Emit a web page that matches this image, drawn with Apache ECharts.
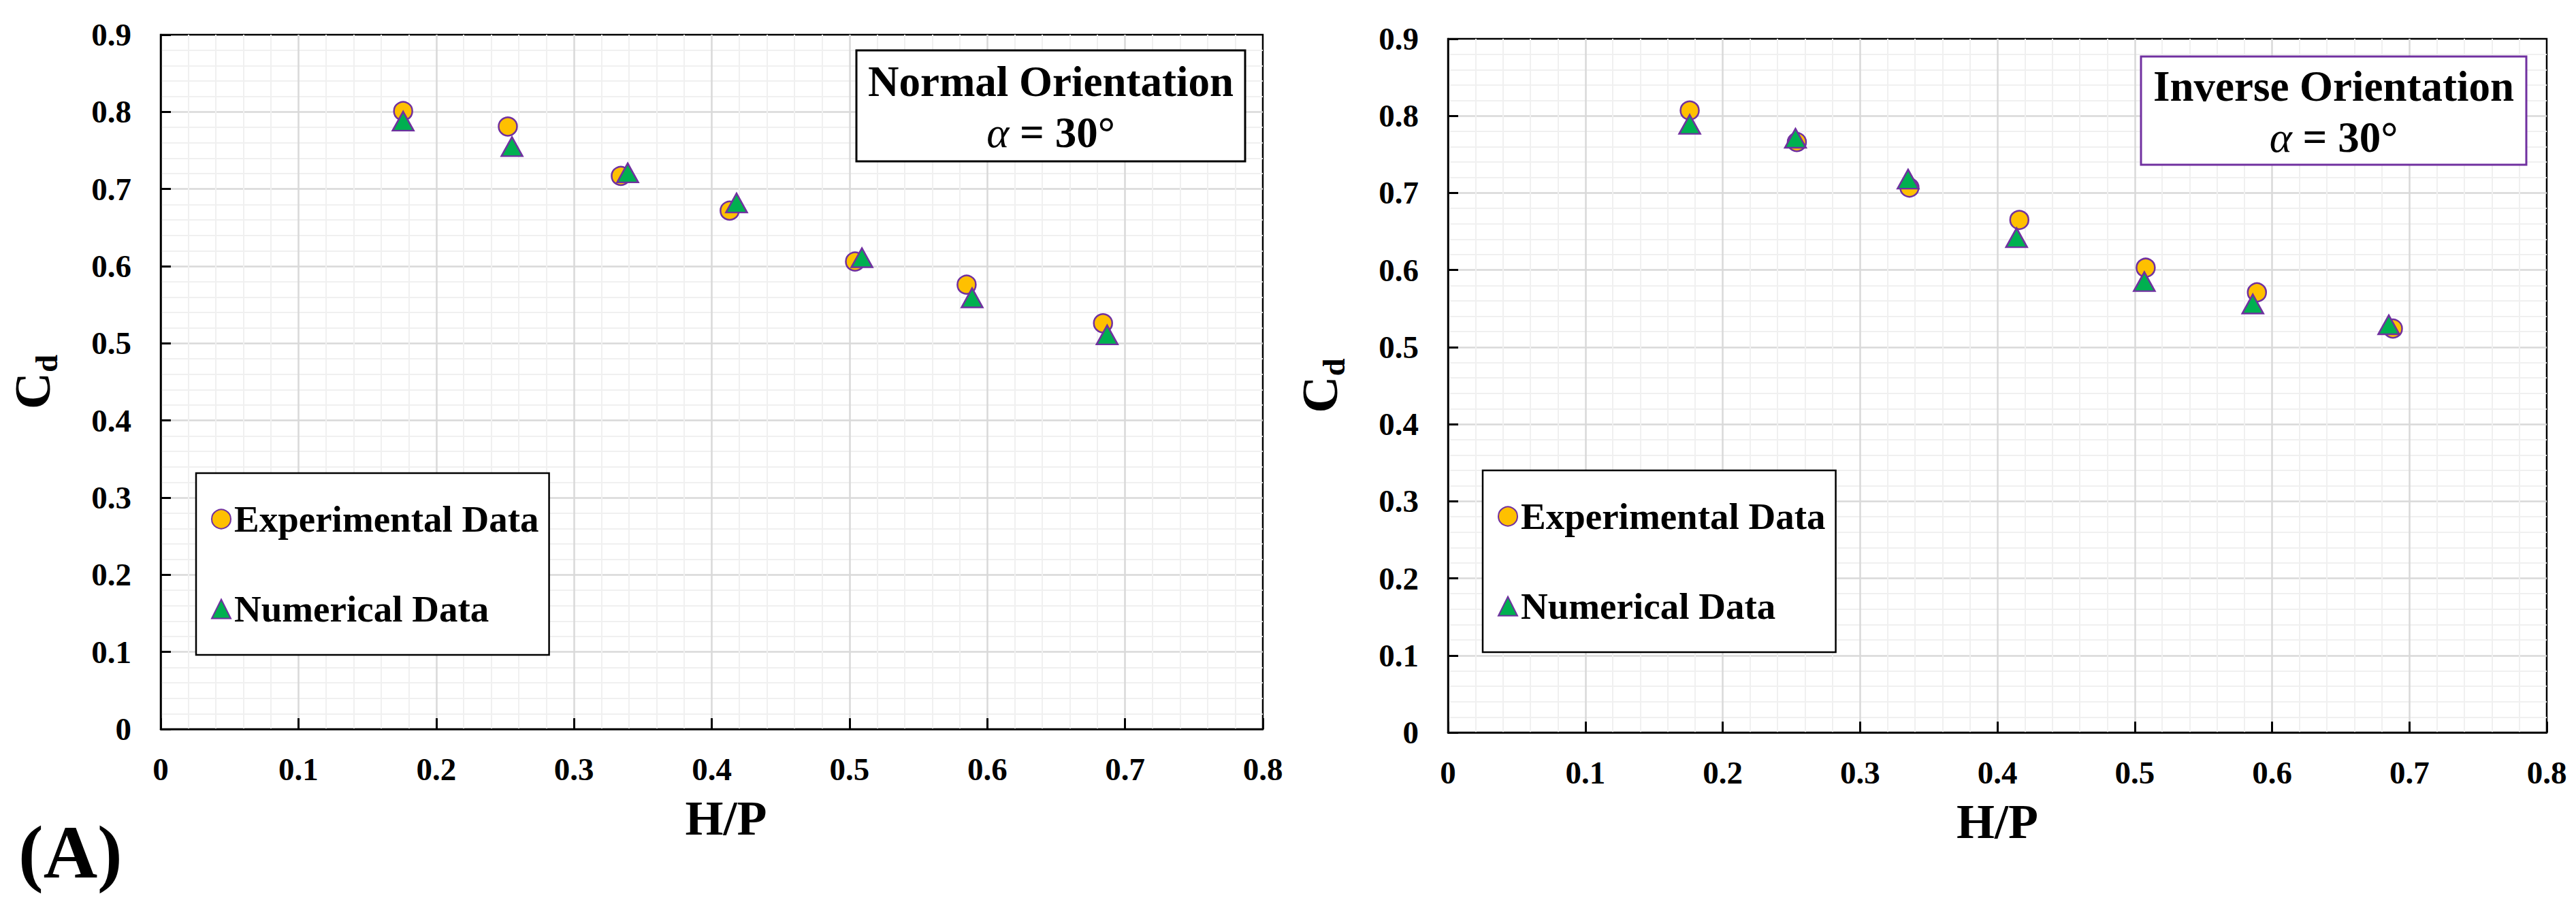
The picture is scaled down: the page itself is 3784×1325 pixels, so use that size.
<!DOCTYPE html>
<html>
<head>
<meta charset="utf-8">
<script src="https://cdn.jsdelivr.net/npm/echarts@6/dist/echarts.min.js"></script>
<style>
html,body{margin:0;padding:0;background:#fff;}
#chart{width:3784px;height:1325px;}
</style>
</head>
<body>
<div id="chart"></div>
<script>
// ---- data ----
const panelTitles = ['Normal Orientation', 'Inverse Orientation'];
const angleLabel = '\u03b1';
const angleValue = ' = 30\u00b0';
const seriesNames = ['Experimental Data', 'Numerical Data'];
const xAxisName = 'H/P';
const yAxisName = 'C';
const yAxisSub = 'd';
const panelTag = '(A)';

// Normal orientation
const hpNormalExp = [0.176, 0.252, 0.334, 0.413, 0.504, 0.585, 0.684];
const cdNormalExp = [0.801, 0.781, 0.717, 0.672, 0.606, 0.576, 0.526];
const hpNormalNum = [0.176, 0.255, 0.339, 0.418, 0.509, 0.589, 0.687];
const cdNormalNum = [0.788, 0.755, 0.721, 0.682, 0.611, 0.559, 0.511];

// Inverse orientation
const hpInverseExp = [0.176, 0.254, 0.336, 0.416, 0.508, 0.589, 0.688];
const cdInverseExp = [0.807, 0.766, 0.707, 0.665, 0.603, 0.571, 0.524];
const hpInverseNum = [0.176, 0.253, 0.335, 0.414, 0.507, 0.586, 0.685];
const cdInverseNum = [0.789, 0.771, 0.718, 0.642, 0.585, 0.556, 0.529];

const xRange = [0, 0.8], xStep = 0.1;
const yRange = [0, 0.9], yStep = 0.1;

// ---- styling / layout ----
const FONT = 'Liberation Serif';
const grids = [
  {left: 236, top: 51, width: 1619, height: 1020},
  {left: 2127, top: 57, width: 1614, height: 1019}
];

function zip(xs, ys) { return xs.map((x, k) => [x, ys[k]]); }

function xAxis(i) {
  return {
    type: 'value', gridIndex: i, min: xRange[0], max: xRange[1], interval: xStep,
    name: xAxisName, nameLocation: 'middle', nameGap: 95,
    nameTextStyle: {fontFamily: FONT, fontWeight: 'bold', fontSize: 72, color: '#000',
      padding: i === 0 ? [0, 0, 0, 42] : [0, 0, 0, 0]},
    axisLine: {show: true, onZero: false, lineStyle: {color: '#000', width: 2.5}},
    axisTick: {show: true, inside: true, length: 16, lineStyle: {color: '#000', width: 3}},
    axisLabel: {fontFamily: FONT, fontWeight: 'bold', fontSize: 47, color: '#000', margin: 35},
    splitLine: {show: true, showMinLine: false, showMaxLine: false, lineStyle: {color: '#d9d9d9', width: 2.5}},
    minorTick: {show: false, splitNumber: 5},
    minorSplitLine: {show: true, lineStyle: {color: '#f0f0f0', width: 2}}
  };
}
function yAxis(i) {
  return {
    type: 'value', gridIndex: i, min: yRange[0], max: yRange[1], interval: yStep,
    name: '{c|' + yAxisName + '}{d|' + yAxisSub + '}', nameLocation: 'middle', nameGap: 145, nameRotate: 90,
    nameTextStyle: {
      rich: {
        c: {fontFamily: FONT, fontWeight: 'bold', fontSize: 75, color: '#000', lineHeight: 80, verticalAlign: 'bottom', padding: [0, 0, 6, 0]},
        d: {fontFamily: FONT, fontWeight: 'bold', fontSize: 47, color: '#000', lineHeight: 47, verticalAlign: 'bottom'}
      }
    },
    axisLine: {show: true, onZero: false, lineStyle: {color: '#000', width: 2.5}},
    axisTick: {show: true, inside: true, length: 15, lineStyle: {color: '#000', width: 3}},
    axisLabel: {fontFamily: FONT, fontWeight: 'bold', fontSize: 47, color: '#000', margin: 43},
    splitLine: {show: true, showMinLine: false, showMaxLine: false, lineStyle: {color: '#d9d9d9', width: 2.5}},
    minorTick: {show: false, splitNumber: 5},
    minorSplitLine: {show: true, lineStyle: {color: '#f0f0f0', width: 2}}
  };
}
function expSeries(i, xs, ys) {
  return {
    name: seriesNames[0], type: 'scatter', xAxisIndex: i, yAxisIndex: i,
    symbol: 'circle', symbolSize: 27,
    itemStyle: {color: '#ffc000', borderColor: '#7030a0', borderWidth: 2.5, opacity: 1},
    data: zip(xs, ys), z: 3
  };
}
function numSeries(i, xs, ys) {
  return {
    name: seriesNames[1], type: 'scatter', xAxisIndex: i, yAxisIndex: i,
    symbol: 'triangle', symbolSize: [31, 28],
    itemStyle: {color: '#00b050', borderColor: '#7030a0', borderWidth: 2.5, opacity: 1},
    data: zip(xs, ys), z: 4
  };
}
function legend(left, top) {
  return {
    show: true, orient: 'vertical', left: left, top: top,
    data: seriesNames.slice(),
    padding: [40, 15, 40, 22], itemGap: 77, itemWidth: 28, itemHeight: 28,
    backgroundColor: '#fff', borderColor: '#000', borderWidth: 2.5,
    textStyle: {fontFamily: FONT, fontWeight: 'bold', fontSize: 55, color: '#000'},
    selectedMode: false
  };
}
function titleBox(rect, stroke, title) {
  return [
    {type: 'rect', z: 100, shape: {x: rect.x, y: rect.y, width: rect.w, height: rect.h},
      style: {fill: '#fff', stroke: stroke, lineWidth: 3}},
    {type: 'text', z: 101, x: rect.x + rect.w / 2, y: rect.y + rect.h / 2 + 2,
      style: {
        text: '{b|' + title + '}\n{i|' + angleLabel + '}{b|' + angleValue + '}',
        align: 'center', verticalAlign: 'middle',
        rich: {
          b: {fontFamily: FONT, fontWeight: 'bold', fontSize: 63, lineHeight: 75, fill: '#000'},
          i: {fontFamily: FONT, fontStyle: 'italic', fontSize: 63, lineHeight: 75, fill: '#000'}
        }
      }}
  ];
}

const option = {
  animation: false,
  backgroundColor: '#fff',
  grid: grids.map(g => Object.assign({show: true, backgroundColor: '#fff', borderColor: '#000', borderWidth: 2.5, containLabel: false}, g)),
  xAxis: [xAxis(0), xAxis(1)],
  yAxis: [yAxis(0), yAxis(1)],
  legend: [legend(288, 695), legend(2178, 691)],
  series: [
    expSeries(0, hpNormalExp, cdNormalExp),
    numSeries(0, hpNormalNum, cdNormalNum),
    expSeries(1, hpInverseExp, cdInverseExp),
    numSeries(1, hpInverseNum, cdInverseNum)
  ],
  graphic: [].concat(
    titleBox({x: 1258, y: 74, w: 571, h: 163}, '#000', panelTitles[0]),
    titleBox({x: 3145, y: 83, w: 566, h: 159}, '#7030a0', panelTitles[1]),
    [{type: 'text', z: 101, x: 27, y: 1252,
      style: {text: panelTag, fontFamily: FONT, fontWeight: 'bold', fontSize: 110, fill: '#000', align: 'left', verticalAlign: 'middle'}}]
  )
};

const chart = echarts.init(document.getElementById('chart'), null, {renderer: 'svg', width: 3784, height: 1325});
chart.setOption(option);
</script>
</body>
</html>
